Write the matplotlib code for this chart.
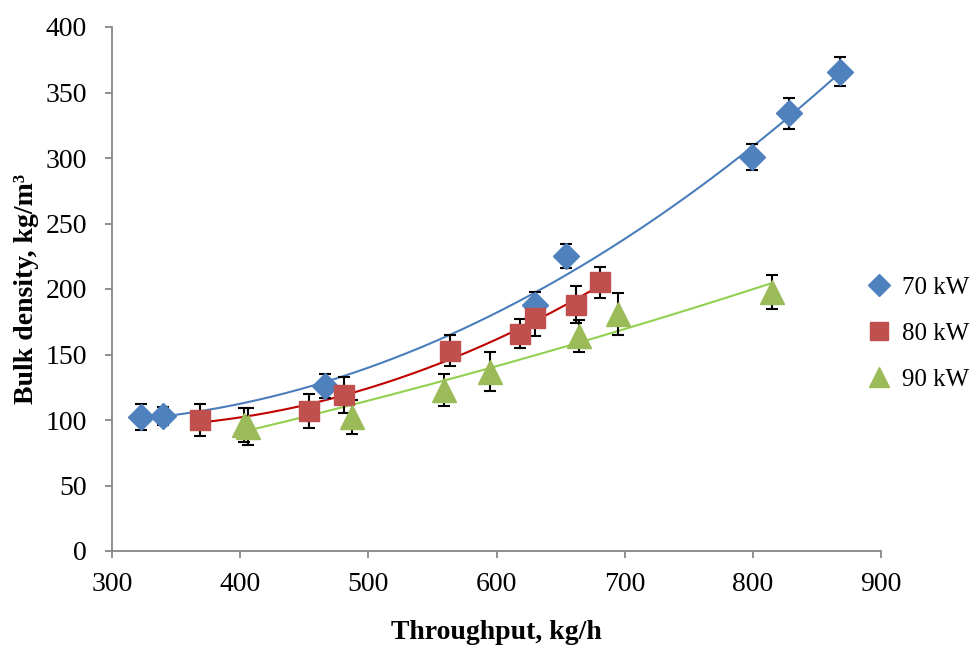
import numpy as np
import matplotlib
matplotlib.use("Agg")
import matplotlib.pyplot as plt

plt.rcParams['font.family'] = ['Liberation Serif', 'DejaVu Serif']

x70 = [323, 340, 466, 630, 654, 799, 828, 868]
y70 = [102, 103, 126, 188, 225, 301, 334, 366]
e70 = [10, 7, 9, 10, 9, 10, 12, 11]

x80 = [369, 454, 481, 564, 618, 630, 662, 681]
y80 = [100, 107, 119, 153, 166, 178, 188, 205]
e80 = [12, 13, 14, 12, 11, 14, 14, 12]

x90 = [403, 406, 487, 559, 595, 664, 695, 815]
y90 = [96, 95, 102, 123, 137, 164, 181, 198]
e90 = [13, 14, 13, 12, 15, 12, 16, 13]

series = [
    ("70 kW", x70, y70, e70, "#4F81BD", "D", "#4A7EBB", 340, 868, 13),
    ("80 kW", x80, y80, e80, "#C0504D", "s", "#C00000", 369, 681, 14.5),
    ("90 kW", x90, y90, e90, "#9BBB59", "^", "#92D050", 403, 815, 17),
]

fig = plt.figure(figsize=(9.71, 6.46), dpi=100)
ax = fig.add_axes([112/971, 1-551/646, (881-112)/971, (551-27)/646])

for name, xs, ys, es, c, m, lc, x0, x1, ms in series:
    xs = np.array(xs, float); ys = np.array(ys, float)
    p = np.polyfit(xs, ys, 2)
    xx = np.linspace(x0, x1, 200)
    ax.plot(xx, np.polyval(p, xx), color=lc, lw=1.5, zorder=2)
    ax.errorbar(xs, ys, yerr=es, fmt='none', ecolor='black', elinewidth=1.5,
                capsize=4.3, capthick=1.5, zorder=3)
    ax.plot(xs, ys, ls='none', marker=m, ms=ms, color=c, mec=c, label=name, zorder=4)

ax.set_xlim(300, 900)
ax.set_ylim(0, 400)
ax.set_xticks(range(300, 901, 100))
ax.set_yticks(range(0, 401, 50))
for s in ['top', 'right']:
    ax.spines[s].set_visible(False)
for s in ['left', 'bottom']:
    ax.spines[s].set_color('#868686')
    ax.spines[s].set_linewidth(1.3)
ax.tick_params(axis='both', labelsize=20, color='#868686', length=5, width=1.3)
ax.tick_params(axis='y', pad=13)
ax.tick_params(axis='x', pad=10)
ax.set_xlabel("Throughput, kg/h", fontsize=20, fontweight='bold', labelpad=17)
ax.set_ylabel("Bulk density, kg/m³", fontsize=20, fontweight='bold', labelpad=5)

leg = ax.legend(loc='center left', bbox_to_anchor=(0.972, 0.415), frameon=False,
                fontsize=18, handlelength=0.8, handletextpad=0.5, labelspacing=0.95,
                borderaxespad=0, markerscale=0.85)

fig.savefig("out.png", dpi=100)
